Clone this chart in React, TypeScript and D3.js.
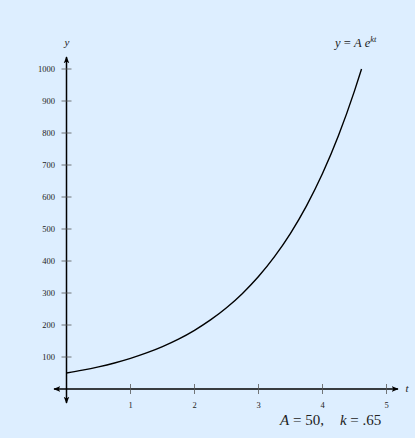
import React from "react";
import * as d3 from "d3";

const tValues = [0, 0.25, 0.5, 0.75, 1, 1.25, 1.5, 1.75, 2, 2.25, 2.5, 2.75, 3, 3.25, 3.5, 3.75, 4, 4.25, 4.5, 4.61];
const yValues = [50, 58.8, 69.2, 81.4, 95.8, 112.7, 132.6, 155.9, 183.5, 215.8, 253.9, 298.7, 351.4, 413.5, 486.4, 572.2, 673.2, 792, 931.7, 1000];
const xTicks = [1, 2, 3, 4, 5];
const yTicks = [100, 200, 300, 400, 500, 600, 700, 800, 900, 1000];

export default function App() {
  const W = 415, H = 438;
  const x = d3.scaleLinear().domain([0, 5]).range([66.5, 386.5]);
  const y = d3.scaleLinear().domain([0, 1000]).range([389, 69]);
  const pts = tValues.map((t, i) => [t, yValues[i]] as [number, number]);
  const line = d3.line<[number, number]>().x(d => x(d[0])).y(d => y(d[1])).curve(d3.curveMonotoneX);
  const x0 = x(0), y0 = y(0);
  const font = "'Liberation Serif', 'DejaVu Serif', serif";
  const nb = "\u00A0";
  return (
    <svg width={W} height={H} style={{ position: "absolute", left: 0, top: 0 }} fontFamily={font}>
      <defs>
        <marker id="arr" viewBox="0 0 10 10" refX="9" refY="5" markerWidth="7" markerHeight="7" markerUnits="userSpaceOnUse" orient="auto-start-reverse">
          <path d="M0,1 L10,5 L0,9 L2.5,5 Z" fill="#000" />
        </marker>
      </defs>
      <rect x={0} y={0} width={W} height={H} fill="#ddeeff" />
      {/* axes */}
      <line x1={54} y1={y0} x2={398} y2={y0} stroke="#000" strokeWidth={1.5} markerStart="url(#arr)" markerEnd="url(#arr)" />
      <line x1={x0} y1={403} x2={x0} y2={57} stroke="#000" strokeWidth={1.5} markerStart="url(#arr)" markerEnd="url(#arr)" />
      {/* y ticks */}
      {yTicks.map(v => (
        <g key={v}>
          <line x1={x0 - 5} x2={x0 + 5} y1={y(v)} y2={y(v)} stroke="#555" strokeWidth={0.8} />
          <text x={55} y={y(v)} dy="0.33em" textAnchor="end" fontSize={8.5} fill="#222">{v}</text>
        </g>
      ))}
      {/* x ticks */}
      {xTicks.map(v => (
        <g key={v}>
          <line x1={x(v)} x2={x(v)} y1={y0 - 5} y2={y0 + 5} stroke="#555" strokeWidth={0.8} />
          <text x={x(v)} y={408} textAnchor="middle" fontSize={8.5} fill="#222">{v}</text>
        </g>
      ))}
      <path d={line(pts) || ""} fill="none" stroke="#000" strokeWidth={1.4} />
      <text x={67} y={46} textAnchor="middle" fontSize={11} fontStyle="italic" fill="#222">y</text>
      <text x={407} y={392} textAnchor="middle" fontSize={11} fontStyle="italic" fill="#222">t</text>
      <text x={335} y={47} fontSize={12.5} fill="#222">
        <tspan fontStyle="italic">y</tspan>
        <tspan>{`${nb}=${nb}`}</tspan>
        <tspan fontStyle="italic">{`A${nb}e`}</tspan>
        <tspan fontStyle="italic" fontSize={8.5} dy={-5}>kt</tspan>
      </text>
      <text x={280} y={425} fontSize={15} fill="#222">
        <tspan fontStyle="italic">A</tspan>
        <tspan>{`${nb}=${nb}50,`}</tspan>
        <tspan dx={16} fontStyle="italic">k</tspan>
        <tspan>{`${nb}=${nb}.65`}</tspan>
      </text>
    </svg>
  );
}
